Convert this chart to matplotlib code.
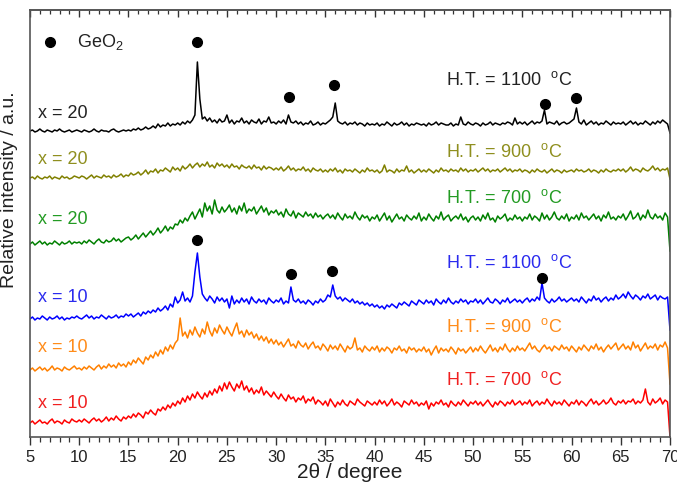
import numpy as np
import matplotlib
matplotlib.use("Agg")
import matplotlib.pyplot as plt
from matplotlib.ticker import MultipleLocator

plt.rcParams['font.family'] = ['Liberation Sans', 'DejaVu Sans']
plt.rcParams['mathtext.fontset'] = 'custom'
plt.rcParams['mathtext.rm'] = 'Liberation Sans'

# 2theta axis, 0.25 deg steps
two_theta = np.linspace(5, 70, 261)

# intensities (a.u.), one row = 5 degrees
x20_1100 = [6,7,5,6,8,6,5,7,6,5,7,6,8,6,5,6,7,5,6,7,
            6,5,7,6,5,6,8,6,5,7,6,6,5,7,8,6,5,6,7,6,
            7,6,8,7,9,7,8,10,8,9,11,9,13,10,12,11,14,11,13,12,
            14,12,15,13,16,14,17,22,75,38,18,20,16,19,15,17,14,18,15,16,
            22,14,17,13,16,15,19,14,16,13,17,15,14,18,13,16,15,20,14,15,
            13,16,14,17,13,22,15,14,16,13,15,12,14,13,16,12,13,15,12,14,
            13,15,17,20,34,16,14,13,15,12,14,13,15,12,14,13,11,14,12,13,
            12,14,11,13,12,15,13,11,14,12,13,15,12,14,11,13,12,14,13,12,
            13,11,14,12,13,15,12,14,13,12,12,14,11,13,12,20,13,12,15,13,
            12,14,13,11,14,12,13,15,12,14,13,12,14,13,15,14,12,19,13,15,
            13,15,12,14,16,13,15,14,16,27,13,15,14,13,16,12,14,15,13,14,
            16,18,29,15,13,17,12,14,16,13,15,12,14,13,16,14,12,15,13,14,
            13,15,12,14,16,13,15,12,14,13,16,14,12,15,13,16,14,17,15,13,
            4]
x20_900 = [4,5,3,6,4,3,5,4,6,3,5,4,3,6,4,5,3,4,6,5,
           4,6,5,3,5,7,4,6,5,4,7,5,6,4,7,5,6,8,5,7,
           6,9,7,8,10,7,9,12,8,11,10,13,9,12,11,14,12,10,15,12,
           14,11,16,13,15,18,14,17,19,15,18,16,20,15,17,14,19,16,18,15,
           17,14,18,15,16,13,17,15,14,16,13,17,14,15,12,16,13,15,14,12,
           14,12,15,11,13,16,12,14,11,13,12,15,11,13,10,14,12,11,13,10,
           12,10,13,11,14,10,12,9,13,11,12,10,13,11,9,12,10,14,11,12,
           10,12,9,11,17,10,12,11,9,13,10,12,11,16,10,12,9,11,13,10,
           12,10,13,11,9,12,10,14,11,12,10,13,11,12,10,14,11,13,10,12,
           11,13,10,12,14,11,13,10,12,11,13,10,12,14,11,13,10,12,11,13,
           10,12,11,9,12,10,13,11,10,12,9,11,13,10,12,11,9,12,10,11,
           12,10,13,11,12,10,11,13,10,12,11,9,12,10,13,11,10,12,11,13,
           11,13,10,12,15,11,13,12,10,14,12,11,13,16,12,14,11,13,12,14,
           3]
x20_700 = [3,5,2,4,6,3,5,2,4,3,6,4,2,5,3,4,6,3,5,4,
           5,3,6,4,7,5,3,6,8,5,4,7,5,6,9,6,8,5,7,9,
           10,7,9,12,8,11,14,10,13,16,12,15,19,14,17,21,16,20,18,23,
           22,27,24,29,26,31,35,28,33,38,30,44,36,41,33,47,37,34,40,35,
           38,42,35,39,33,41,36,44,34,38,36,40,33,37,41,35,39,32,36,34,
           37,32,35,30,38,33,31,36,29,34,32,30,35,31,33,29,34,30,32,28,
           31,33,29,32,28,34,30,27,33,29,31,28,35,30,27,32,29,31,26,30,
           28,32,26,30,34,27,31,25,29,33,28,30,26,32,29,27,31,28,34,26,
           30,27,33,29,26,31,28,35,27,30,32,26,29,31,28,33,27,30,25,29,
           31,27,30,26,32,28,34,27,29,25,31,28,30,33,26,29,27,32,28,30,
           26,30,28,33,27,31,29,26,34,28,32,27,30,35,29,27,31,28,33,26,
           30,28,32,27,34,29,31,27,30,33,28,31,26,32,29,35,28,30,27,31,
           29,33,27,31,36,28,30,34,27,32,29,37,30,28,33,29,31,27,34,30,
           -4]
x10_1100 = [3,5,2,4,3,6,4,2,5,3,4,6,3,5,2,4,3,5,4,6,
            4,3,5,7,4,6,3,5,4,7,5,3,6,4,5,7,4,6,5,8,
            6,8,5,7,9,6,10,8,11,9,12,10,14,11,13,16,12,18,15,25,
            19,22,30,21,24,20,26,50,69,45,28,24,21,26,23,19,25,21,24,20,
            23,14,26,18,22,19,24,20,23,18,25,21,19,23,20,22,18,24,21,19,
            22,20,24,18,21,19,35,22,20,23,19,21,18,22,20,17,21,19,23,20,
            22,27,25,37,26,23,25,21,24,22,20,23,19,21,18,20,17,19,16,18,
            15,17,14,16,13,17,15,18,16,14,19,17,20,18,16,21,19,17,22,20,
            18,22,19,21,17,23,20,18,22,19,24,20,18,21,19,23,20,22,18,21,
            20,23,19,22,18,21,24,20,19,23,21,18,22,20,24,19,21,23,20,22,
            19,22,24,20,23,21,25,22,39,24,21,19,23,20,22,25,21,23,20,22,
            24,21,23,20,25,22,19,23,21,26,22,24,20,23,25,21,24,22,27,23,
            25,28,24,30,26,23,27,25,22,26,24,28,23,25,27,22,26,24,23,25,
            -8]
x10_900 = [4,6,3,5,7,4,6,3,5,8,4,6,5,3,7,5,4,6,8,5,
           6,4,7,5,8,6,4,7,9,5,8,6,10,7,9,6,11,8,10,7,
           12,9,14,11,16,13,10,17,14,19,16,22,18,24,20,27,23,29,25,31,
           34,56,38,42,36,44,39,47,41,37,45,40,52,43,38,46,41,49,44,40,
           47,42,38,45,51,40,43,37,44,39,42,36,40,34,38,33,37,31,35,30,
           34,29,32,27,31,35,28,30,26,33,29,27,31,25,29,32,26,28,24,30,
           27,23,29,25,28,24,30,26,22,28,25,27,36,24,26,22,28,25,23,27,
           24,28,22,26,23,27,25,21,26,24,28,23,25,21,27,24,26,22,25,23,
           27,22,25,19,24,28,21,26,23,25,22,27,24,20,26,23,25,21,24,27,
           22,26,23,28,24,21,25,29,23,26,22,27,24,30,25,22,26,23,28,24,
           26,23,27,31,25,28,24,22,26,29,25,27,23,28,26,24,29,25,27,23,
           28,25,22,27,24,29,26,23,28,25,30,24,27,22,26,29,25,28,31,24,
           27,30,25,28,24,32,26,29,23,27,31,25,28,26,30,24,29,27,32,26,
           -10]
x10_700 = [4,6,3,5,7,4,5,3,6,8,4,6,5,3,7,5,4,8,6,5,
           7,5,8,6,4,7,9,6,8,5,7,10,6,9,7,11,8,6,10,8,
           11,9,13,10,14,12,9,15,13,17,14,12,18,16,20,17,22,19,24,21,
           26,23,29,25,31,27,33,29,35,31,28,34,30,36,32,38,34,41,36,44,
           38,45,40,36,43,39,46,37,41,35,39,33,37,34,40,32,36,33,30,35,
           31,28,33,29,26,32,28,30,25,29,27,31,24,28,26,30,23,27,25,22,
           26,21,28,24,20,25,22,27,23,21,26,24,22,28,25,23,21,26,24,22,
           25,22,27,23,26,21,24,28,22,25,23,20,26,24,22,27,23,25,21,24,
           22,26,18,24,21,25,23,27,22,24,20,26,23,21,25,22,27,24,21,25,
           23,26,22,25,21,24,27,23,20,25,22,26,24,21,25,23,27,22,24,26,
           22,25,23,27,21,24,26,22,25,23,28,24,21,26,23,25,22,27,24,21,
           25,23,27,22,26,24,21,25,28,23,26,22,24,27,23,25,29,24,22,26,
           24,27,23,26,25,28,23,26,24,27,38,25,22,28,24,26,29,23,27,25,
           -10]

samples = ['x = 20', 'x = 20', 'x = 20', 'x = 10', 'x = 10', 'x = 10']
treatments = [1100, 900, 700, 1100, 900, 700]
offsets = [300, 255, 190, 115, 63, 10]   # vertical stacking
patterns = [x20_1100, x20_900, x20_700, x10_1100, x10_900, x10_700]

# GeO2 reflections (2theta, marker height in stacked units)
geo2_x20_pos = [22.0, 31.3, 35.9, 57.3, 60.45]
geo2_x20_h = [395, 340, 352, 333, 339]
geo2_x10_pos = [22.0, 31.5, 35.7, 57.0]
geo2_x10_h = [197, 163, 166, 159]

colors = ['black', '#808000', '#008000', '#0000ff', '#ff8000', '#ff0000']
text_colors = ['#222222', '#8f8f1f', '#239b23', '#2b2bee', '#ff8c1a', '#f02020']
label_y = [323, 277, 217, 139, 89, 34]
ht_y = [357, 285, 239, 174, 110, 57]

fig = plt.figure(figsize=(6.77, 4.83), dpi=100)
ax = fig.add_axes([30/677, 46/483, 640/677, 427/483])

for i in range(len(patterns)):
    y = np.array(patterns[i]) + offsets[i]
    ax.plot(two_theta, y, color=colors[i], lw=1.1)
    ax.text(5.8, label_y[i], samples[i], color=text_colors[i], fontsize=13,
            va='center', ha='left')
    ax.text(47.3, ht_y[i], 'H.T. = %d  $^{\\mathregular{o}}$C' % treatments[i],
            color=text_colors[i], fontsize=13, va='center', ha='left')

ax.plot(geo2_x20_pos, geo2_x20_h, 'o', color='black', ms=7)
ax.plot(geo2_x10_pos, geo2_x10_h, 'o', color='black', ms=7)
# legend symbol
ax.plot([7.0], [395], 'o', color='black', ms=7)
ax.text(9.8, 395, 'GeO$_{\\mathregular{2}}$', fontsize=13, va='center', ha='left',
        color='#222222')

ax.set_xlim(5, 70)
ax.set_ylim(0, 427)
ax.set_yticks([])
ax.xaxis.set_major_locator(MultipleLocator(5))
ax.xaxis.set_minor_locator(MultipleLocator(1))
ax.tick_params(axis='x', which='major', direction='out', length=6, width=1,
               labelsize=12, pad=3, colors='#333333', labelcolor='#222222')
ax.tick_params(axis='x', which='minor', direction='out', length=3.5, width=0.9,
               colors='#333333')
for s in ax.spines.values():
    s.set_color('#555555')
    s.set_linewidth(1.2)

top = ax.secondary_xaxis('top')
top.xaxis.set_major_locator(MultipleLocator(5))
top.xaxis.set_minor_locator(MultipleLocator(1))
top.tick_params(which='major', direction='in', length=5, width=1,
                labeltop=False, colors='#333333')
top.tick_params(which='minor', direction='in', length=3, width=0.9, colors='#333333')
top.spines['top'].set_color('#555555')
top.spines['top'].set_linewidth(1.2)

fig.text(10/677, 1 - 190/483, 'Relative intensity / a.u.', rotation=90,
         fontsize=14, va='center', ha='center', color='#222222')
fig.text(350/677, 5/483, '2\u03b8 / degree', fontsize=15, va='baseline',
         ha='center', color='#222222')

fig.savefig('out.png', dpi=100)
